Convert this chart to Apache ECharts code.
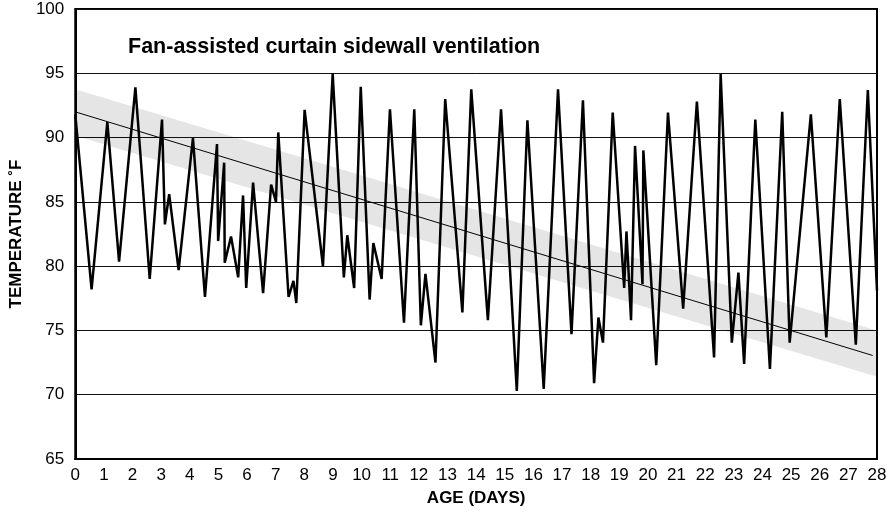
<!DOCTYPE html>
<html>
<head>
<meta charset="utf-8">
<script src="https://cdn.jsdelivr.net/npm/echarts@6/dist/echarts.min.js"></script>
<style>html,body{margin:0;padding:0;background:#fff}#c{width:890px;height:518px}</style>
</head>
<body>
<div id="c"></div>
<script>
// Age in days (x) and temperature in °F (y) of the measured series
const ageDays = [0, 0.57, 1.12, 1.53, 2.10, 2.60, 3.03, 3.13, 3.28, 3.61, 4.11, 4.53, 4.95, 4.99, 5.20, 5.22, 5.44, 5.69, 5.86, 5.97,
  6.21, 6.56, 6.84, 7.01, 7.09, 7.45, 7.62, 7.72, 8.01, 8.65, 8.99, 9.38, 9.50, 9.74, 9.97, 10.28, 10.41, 10.70, 10.99,
  11.48, 11.84, 12.07, 12.23, 12.58, 12.92, 13.52, 13.83, 14.41, 14.87, 15.42, 15.79, 16.36, 16.86, 17.33, 17.73, 18.12,
  18.27, 18.43, 18.77, 19.17, 19.25, 19.41, 19.55, 19.81, 19.84, 20.29, 20.70, 21.23, 21.71, 22.31, 22.54, 22.93, 23.16,
  23.36, 23.75, 24.26, 24.69, 24.95, 25.69, 26.23, 26.70, 27.26, 27.68, 28.0];
const tempF = [91.8, 78.2, 91.2, 80.35, 93.9, 79.0, 91.4, 83.25, 85.6, 79.7, 89.95, 77.6, 89.5, 81.95, 88.05, 80.27, 82.3, 79.13, 85.5, 78.3,
  86.5, 77.9, 86.35, 85.0, 90.4, 77.6, 78.85, 77.13, 92.15, 80.0, 94.95, 79.13, 82.4, 78.3, 93.95, 77.4, 81.8, 79.0, 92.2,
  75.6, 92.2, 75.4, 79.4, 72.5, 93.0, 76.4, 93.75, 75.8, 92.2, 70.3, 91.35, 70.45, 93.75, 74.7, 92.9, 70.9,
  76.0, 74.05, 91.95, 78.3, 82.7, 75.8, 89.35, 78.6, 89.0, 72.3, 91.95, 76.7, 92.8, 72.9, 94.95, 74.05, 79.5,
  72.4, 91.4, 72.0, 92.0, 74.05, 91.8, 74.45, 93.0, 73.9, 93.7, 78.1];
// Trend line (day, °F) and shaded band around it
const trendDays = [0, 27.85];
const trendTemp = [92.0, 73.05];
const bandDays = [0, 28];
const bandLower = [90.15, 71.4];
const bandUpper = [93.75, 75.0];
// Axis ticks
const yTicks = [65, 70, 75, 80, 85, 90, 95, 100];
const xTicks = [0,1,2,3,4,5,6,7,8,9,10,11,12,13,14,15,16,17,18,19,20,21,22,23,24,25,26,27,28];

const zip = (a, b) => a.map((v, i) => [v, b[i]]);
const font = '"Liberation Sans", Arial, sans-serif';

const chart = echarts.init(document.getElementById('c'), null, {renderer: 'canvas'});
chart.setOption({
  animation: false,
  backgroundColor: '#fff',
  title: {
    text: 'Fan-assisted curtain sidewall ventilation',
    left: 123, top: 31,
    textStyle: {fontFamily: font, fontWeight: 'bold', fontSize: 21.5, color: '#000'}
  },
  grid: {left: 72, top: 9, right: 13, bottom: 59, show: true, borderColor: '#000', borderWidth: 2, backgroundColor: 'transparent'},
  xAxis: {
    type: 'value', min: xTicks[0], max: xTicks[xTicks.length - 1], interval: 1,
    name: 'AGE (DAYS)', nameLocation: 'middle', nameGap: 31,
    nameTextStyle: {fontFamily: font, fontWeight: 'bold', fontSize: 17, color: '#000'},
    axisLine: {show: true, lineStyle: {color: '#000', width: 2}},
    axisTick: {show: false},
    splitLine: {show: false},
    axisLabel: {fontFamily: font, fontSize: 17, color: '#000', margin: 8,
      formatter: v => xTicks.includes(v) ? String(v) : ''}
  },
  yAxis: {
    type: 'value', min: yTicks[0], max: yTicks[yTicks.length - 1], interval: 5,
    name: 'TEMPERATURE ˚F', nameLocation: 'middle', nameGap: 42,
    nameTextStyle: {fontFamily: font, fontWeight: 'bold', fontSize: 17, color: '#000'},
    axisLine: {show: true, lineStyle: {color: '#000', width: 2}},
    axisTick: {show: false},
    splitLine: {show: true, lineStyle: {color: '#111', width: 1}},
    axisLabel: {fontFamily: font, fontSize: 17, color: '#000', margin: 11,
      formatter: v => yTicks.includes(v) ? String(v) : ''}
  },
  series: [
    {
      type: 'custom', silent: true, z: 1,
      data: [[bandDays[0], bandLower[0], bandUpper[0], bandDays[1], bandLower[1], bandUpper[1]]],
      renderItem: function (params, api) {
        const p1 = api.coord([api.value(0), api.value(2)]);
        const p2 = api.coord([api.value(3), api.value(5)]);
        const p3 = api.coord([api.value(3), api.value(4)]);
        const p4 = api.coord([api.value(0), api.value(1)]);
        return {type: 'polygon', shape: {points: [p1, p2, p3, p4]},
          style: {fill: 'rgba(0,0,0,0.1)'}};
      },
      encode: {x: [0, 3], y: [1, 2, 4, 5]}
    },
    {
      type: 'line', data: zip(trendDays, trendTemp), symbol: 'none',
      lineStyle: {color: '#000', width: 1}, z: 2
    },
    {
      type: 'line', data: zip(ageDays, tempF), symbol: 'none',
      lineStyle: {color: '#000', width: 2.5, join: 'miter', miterLimit: 2.5}, z: 3
    }
  ]
});
</script>
</body>
</html>
